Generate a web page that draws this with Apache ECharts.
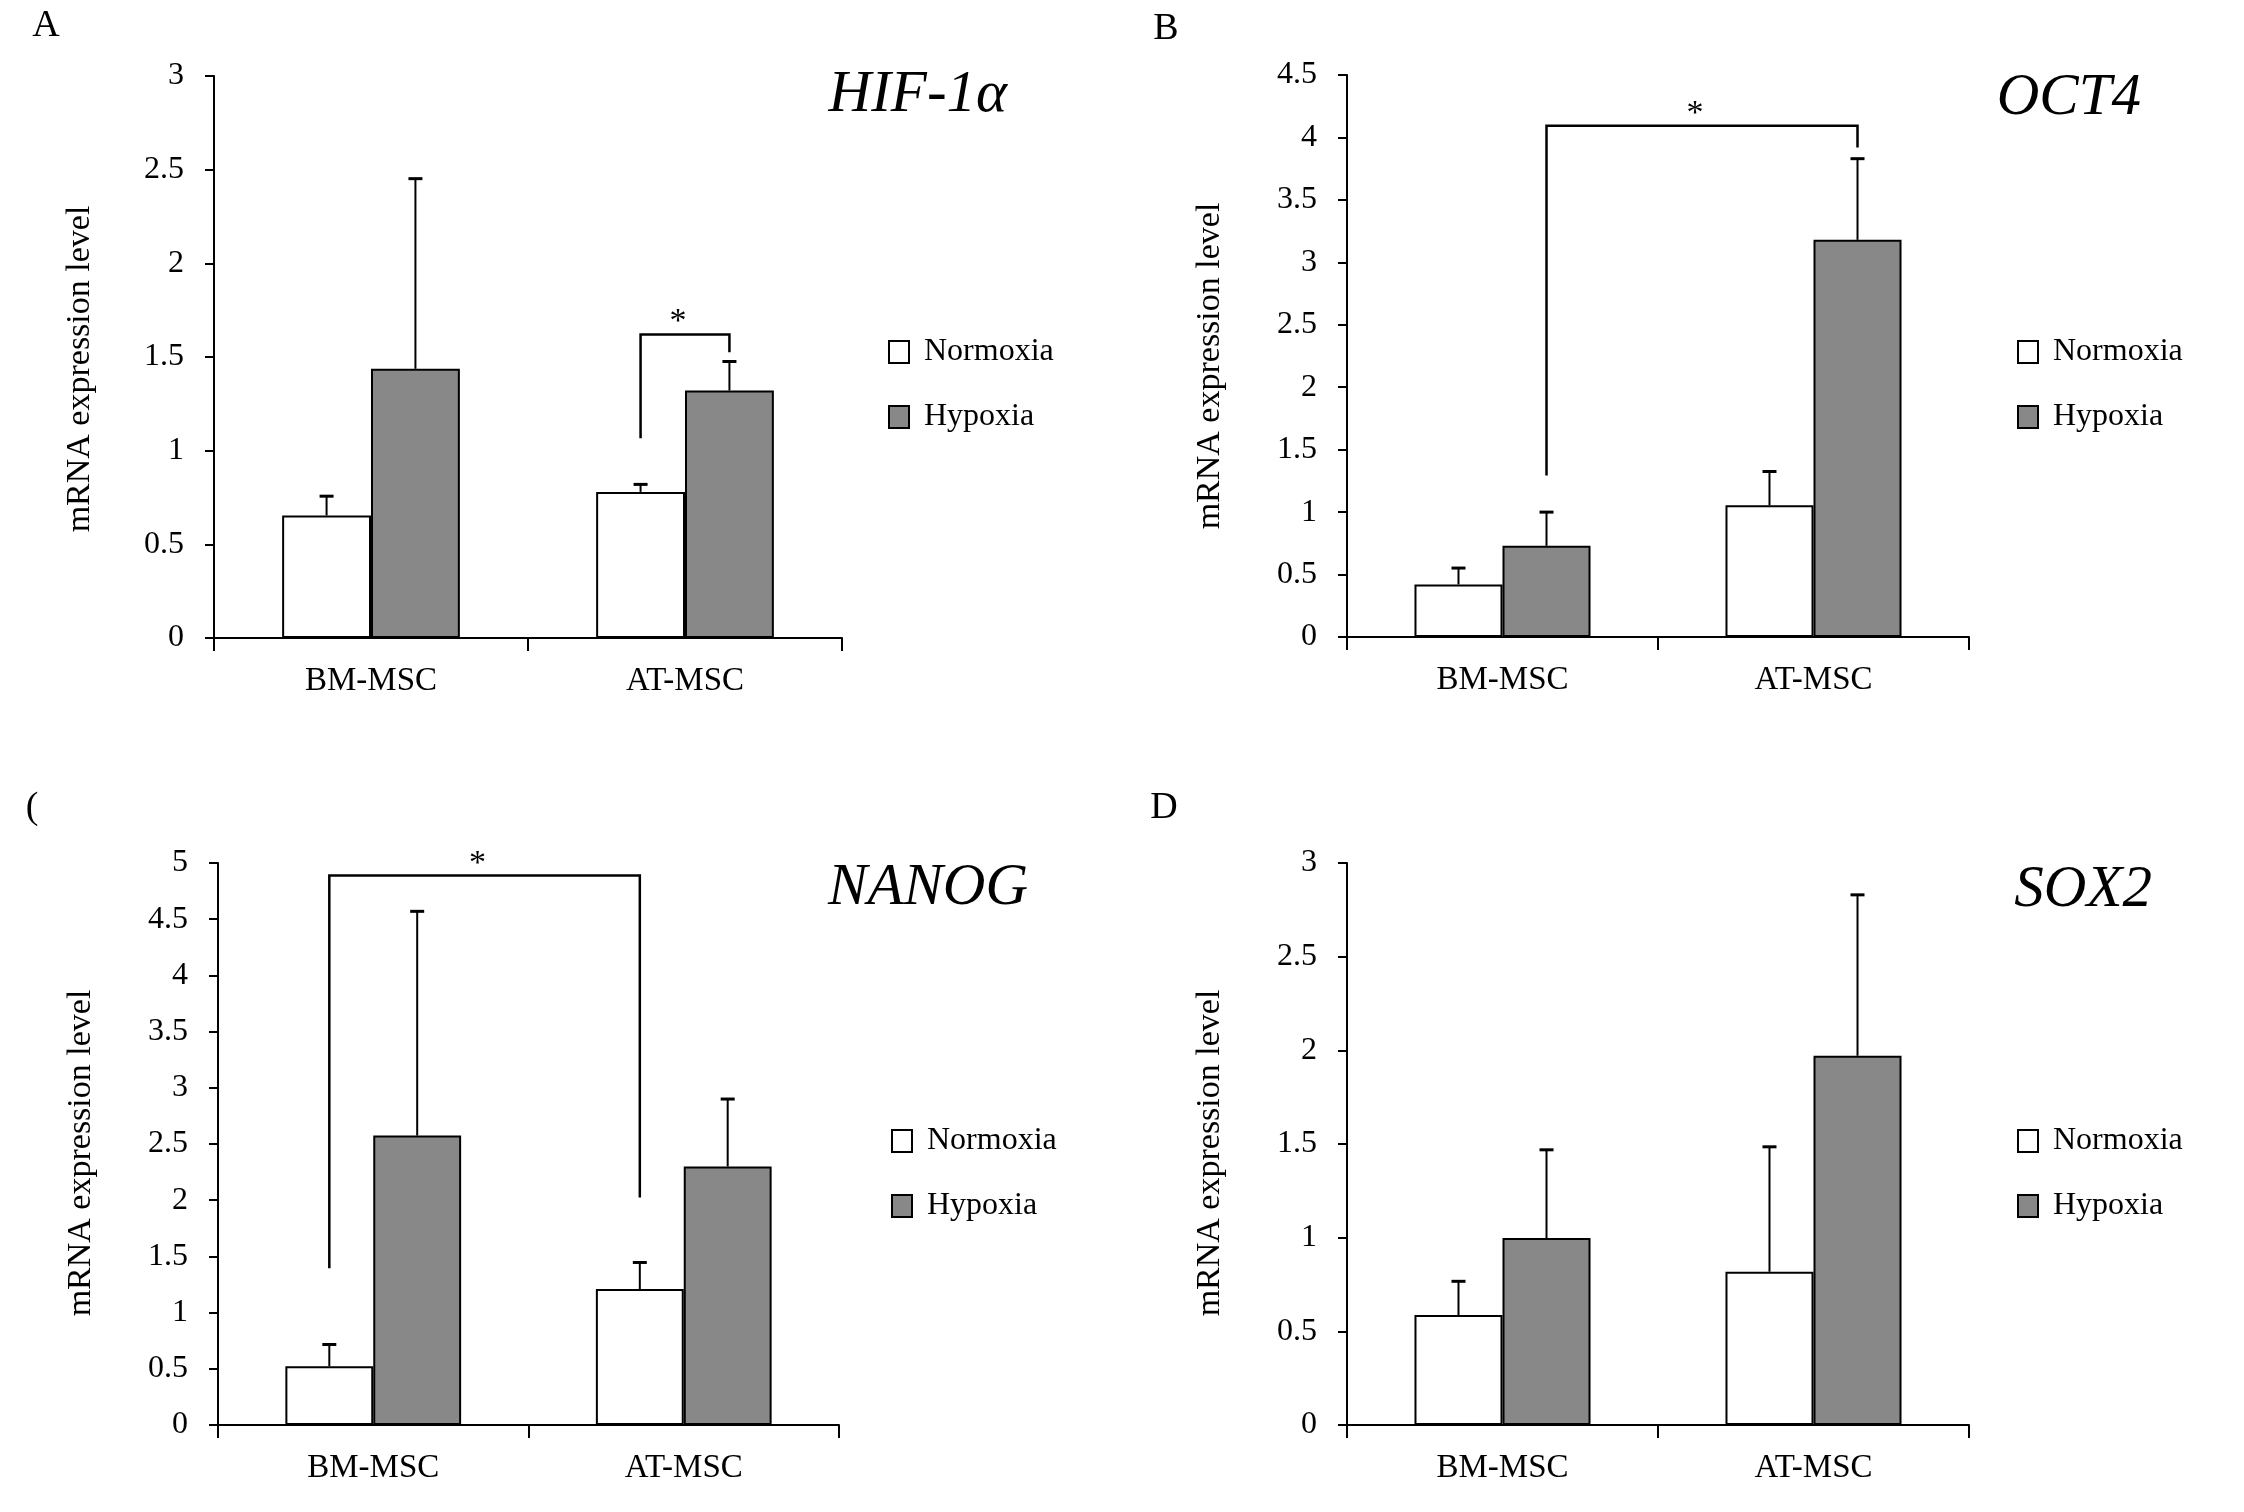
<!DOCTYPE html>
<html>
<head>
<meta charset="utf-8">
<title>mRNA expression</title>
<script src="https://cdn.jsdelivr.net/npm/echarts@6/dist/echarts.min.js"></script>
<style>
  html, body { margin: 0; padding: 0; background: #fff; }
  #chart { width: 2244px; height: 1512px; }
</style>
</head>
<body>
<div id="chart"></div>
<script>
// groups and conditions
const categories = ['BM-MSC', 'AT-MSC'];
const conditions = ['Normoxia', 'Hypoxia'];

// mean values (per category) and SD (upper error bar only)
const hifNormoxia = [0.654, 0.78];
const hifNormoxiaSd = [0.103, 0.04];
const hifHypoxia = [1.437, 1.321];
const hifHypoxiaSd = [1.015, 0.155];

const octNormoxia = [0.421, 1.055];
const octNormoxiaSd = [0.131, 0.27];
const octHypoxia = [0.73, 3.18];
const octHypoxiaSd = [0.27, 0.65];

const nanogNormoxia = [0.523, 1.21];
const nanogNormoxiaSd = [0.193, 0.236];
const nanogHypoxia = [2.575, 2.30];
const nanogHypoxiaSd = [1.995, 0.60];

const soxNormoxia = [0.587, 0.818];
const soxNormoxiaSd = [0.18, 0.667];
const soxHypoxia = [0.998, 1.971];
const soxHypoxiaSd = [0.471, 0.859];

// y axis ranges
const yMax = [3, 4.5, 5, 3];
const yStep = 0.5;

// significance brackets: [leftCat, leftCond, rightCat, rightCond, leftFoot, top, rightFoot]
const hifBracket = [1, 0, 1, 1, 1.066, 1.62, 1.525];
const octBracket = [0, 1, 1, 1, 1.294, 4.094, 3.92];
const nanogBracket = [0, 0, 1, 0, 1.394, 4.888, 2.025];

const genes = ['HIF-1α', 'OCT4', 'NANOG', 'SOX2'];
const panelLetters = ['A', 'B', '(', 'D'];
const yName = 'mRNA expression level';

const panels = [
  { n: hifNormoxia, nSd: hifNormoxiaSd, h: hifHypoxia, hSd: hifHypoxiaSd, br: hifBracket },
  { n: octNormoxia, nSd: octNormoxiaSd, h: octHypoxia, hSd: octHypoxiaSd, br: octBracket },
  { n: nanogNormoxia, nSd: nanogNormoxiaSd, h: nanogHypoxia, hSd: nanogHypoxiaSd, br: nanogBracket },
  { n: soxNormoxia, nSd: soxNormoxiaSd, h: soxHypoxia, hSd: soxHypoxiaSd, br: null }
];

const FONT = "'Liberation Serif', 'Times New Roman', serif";
const BAR_RATIO = 0.283;
const fills = ['#ffffff', '#888888'];

// layout of the four plots (px)
const grids = [
  { left: 214, top: 76, width: 628, height: 562 },
  { left: 1347, top: 75, width: 622, height: 562 },
  { left: 218, top: 863, width: 621, height: 562 },
  { left: 1347, top: 863, width: 622, height: 562 }
];
const legendPos = [
  { left: 883, top: 331 },
  { left: 2012, top: 331 },
  { left: 886, top: 1120 },
  { left: 2012, top: 1120 }
];
const titlePos = [[1007, 95], [2141, 98], [1028, 888], [2152, 890]];
const letterPos = [[46, 26], [1166, 29], [32, 808], [1164, 808]];
const yNamePos = [[80, 369], [1210, 366], [81, 1153], [1210, 1153]];

const chart = echarts.init(document.getElementById('chart'), null, { renderer: 'canvas' });

function errorRender(offset) {
  return function (params, api) {
    const base = api.coord([api.value(0), api.value(1)]);
    const top = api.coord([api.value(0), api.value(2)]);
    const bw = api.size([1, 0])[0] * BAR_RATIO;
    const cx = base[0] + offset * bw;
    return {
      type: 'group',
      children: [
        { type: 'line', shape: { x1: cx, y1: base[1], x2: cx, y2: top[1] },
          style: { stroke: '#000', lineWidth: 2 } },
        { type: 'line', shape: { x1: cx - 7, y1: top[1], x2: cx + 7, y2: top[1] },
          style: { stroke: '#000', lineWidth: 3 } }
      ]
    };
  };
}

function bracketRender(params, api) {
  const bw = api.size([1, 0])[0] * BAR_RATIO;
  const lc = api.value(1) === 0 ? -0.5 : 0.5;
  const rc = api.value(3) === 0 ? -0.5 : 0.5;
  const lf = api.coord([api.value(0), api.value(4)]);
  const lt = api.coord([api.value(0), api.value(5)]);
  const rt = api.coord([api.value(2), api.value(5)]);
  const rf = api.coord([api.value(2), api.value(6)]);
  const x1 = lf[0] + lc * bw;
  const x2 = rf[0] + rc * bw;
  return {
    type: 'group',
    children: [
      { type: 'polyline',
        shape: { points: [[x1, lf[1]], [x1, lt[1]], [x2, rt[1]], [x2, rf[1]]] },
        style: { stroke: '#000', lineWidth: 2.5, fill: null } },
      { type: 'text', x: (x1 + x2) / 2 - 7, y: lt[1] - 12,
        style: { text: '*', font: '34px ' + FONT, fill: '#000', align: 'center', verticalAlign: 'middle' } }
    ]
  };
}

const xAxes = [], yAxes = [], series = [], legends = [], graphics = [];

panels.forEach(function (p, i) {
  xAxes.push({
    type: 'category', gridIndex: i, data: categories,
    axisLine: { lineStyle: { color: '#000', width: 2 } },
    axisTick: { show: true, length: 13, interval: 0, lineStyle: { color: '#000', width: 2 } },
    axisLabel: { color: '#000', fontSize: 33, fontFamily: FONT, margin: 27, interval: 0 },
    splitLine: { show: false }
  });
  yAxes.push({
    type: 'value', gridIndex: i, min: 0, max: yMax[i], interval: yStep,
    axisLine: { show: true, lineStyle: { color: '#000', width: 2 } },
    axisTick: { show: true, length: 9, lineStyle: { color: '#000', width: 2 } },
    axisLabel: { color: '#000', fontSize: 32, fontFamily: FONT, margin: 30 },
    splitLine: { show: false }
  });

  const means = [p.n, p.h];
  const sds = [p.nSd, p.hSd];
  conditions.forEach(function (c, k) {
    series.push({
      type: 'bar', name: c, xAxisIndex: i, yAxisIndex: i,
      data: means[k], barWidth: (BAR_RATIO * 100) + '%', barGap: '0%',
      itemStyle: { color: fills[k], borderColor: '#000', borderWidth: 2 },
      emphasis: { disabled: true }, animation: false
    });
  });
  conditions.forEach(function (c, k) {
    series.push({
      type: 'custom', name: c + ' error', xAxisIndex: i, yAxisIndex: i,
      renderItem: errorRender(k === 0 ? -0.5 : 0.5),
      data: categories.map(function (_, j) { return [j, means[k][j], means[k][j] + sds[k][j]]; }),
      encode: { x: 0, y: 2 }, z: 5, silent: true, animation: false
    });
  });
  if (p.br) {
    series.push({
      type: 'custom', name: 'bracket', xAxisIndex: i, yAxisIndex: i,
      renderItem: bracketRender, data: [p.br],
      encode: { x: 0, y: 5 }, z: 6, silent: true, animation: false
    });
  }

  legends.push({
    data: conditions, orient: 'vertical',
    left: legendPos[i].left, top: legendPos[i].top,
    icon: 'rect', itemWidth: 20, itemHeight: 22, itemGap: 33,
    textStyle: { color: '#000', fontSize: 32, fontFamily: FONT, lineHeight: 32, padding: [0, 0, 0, 10] },
    selectedMode: false
  });

  graphics.push({
    type: 'text', x: titlePos[i][0], y: titlePos[i][1],
    style: { text: genes[i], font: 'italic 59px ' + FONT, fill: '#000', align: 'right', verticalAlign: 'middle' }
  });
  graphics.push({
    type: 'text', x: letterPos[i][0], y: letterPos[i][1],
    style: { text: panelLetters[i], font: '38px ' + FONT, fill: '#000', align: 'center', verticalAlign: 'middle' }
  });
  graphics.push({
    type: 'text', x: yNamePos[i][0], y: yNamePos[i][1], rotation: Math.PI / 2,
    style: { text: yName, font: '34px ' + FONT, fill: '#000', align: 'center', verticalAlign: 'middle' }
  });
});

chart.setOption({
  backgroundColor: '#fff',
  animation: false,
  grid: grids,
  xAxis: xAxes,
  yAxis: yAxes,
  legend: legends,
  series: series,
  graphic: graphics
});
</script>
</body>
</html>
